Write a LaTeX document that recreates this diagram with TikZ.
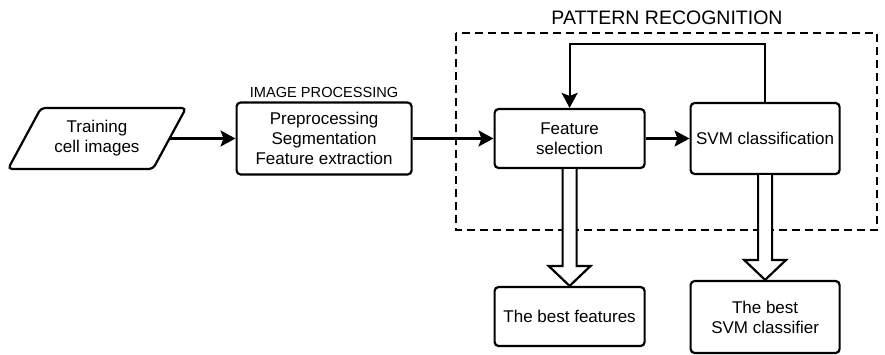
\documentclass[tikz,border=0pt]{standalone}
\usepackage{fontspec}
\setmainfont{Liberation Sans}
\usetikzlibrary{arrows.meta, positioning, calc}

\tikzset{
  procbox/.style={draw, rectangle, rounded corners=4pt, align=center, inner sep=2pt},
  databox/.style={rectangle, align=center, inner sep=2pt, outer sep=0pt},
  caption/.style={inner sep=2pt}
}

% hollow block arrow from one anchor to another
\newcommand{\hollowarrow}[2]{%
  \draw [fill=white, line join=miter] ($(#1)+(-7,0)$) -- ($(#2)+(-7,20)$) -- ($(#2)+(-21,20)$)
    -- (#2) -- ($(#2)+(21,20)$) -- ($(#2)+(7,20)$) -- ($(#1)+(7,0)$);}

\begin{document}
\begin{tikzpicture}[x=1pt, y=1pt, >={Stealth[length=15pt, width=16pt, inset=3pt]}, line width=2.2pt,
    font=\fontsize{17}{20}\selectfont]
  \useasboundingbox (0,0) rectangle (885,-354);

  \node [databox, minimum width=145pt, minimum height=61pt] (input) at (97,-138.5)
  {Training\\cell images};
  \draw [rounded corners=4pt] ($(input.south west)+(-16.5,0)$) -- ($(input.north west)+(16.5,0)$)
    -- ($(input.north east)+(16.5,0)$) -- ($(input.south east)+(-16.5,0)$) -- cycle;
  \node [procbox, right=66pt of input, minimum width=175pt, minimum height=72pt] (improc)
  {Preprocessing\\Segmentation\\Feature extraction};
  \node [caption, above=1pt of improc, font=\fontsize{14.6}{17}\selectfont] (iplabel) {IMAGE PROCESSING};
  \node [procbox, right=80.8pt of improc, minimum width=150pt, minimum height=59pt] (featsel)
  {Feature\\selection};
  \node [procbox, right=43.8pt of featsel, minimum width=149pt, minimum height=71pt] (svm)
  {SVM classification};
  \node [procbox, below=116.8pt of featsel, minimum width=150pt, minimum height=59pt] (bestfeat)
  {The best features};
  \node [procbox, below=104.8pt of svm, minimum width=149pt, minimum height=72pt] (bestsvm)
  {The best\\SVM classifier};

  % pattern recognition frame
  \draw [dashed, dash pattern=on 8pt off 5pt] (456,-33) rectangle (877,-230);
  \node [caption, anchor=base, font=\fontsize{19.5}{22}\selectfont] (prlabel) at (667,-24.5)
  {PATTERN RECOGNITION};

  \draw [->] (input) -- (improc);
  \draw [->] (improc) -- (featsel);
  \draw [->] (featsel) -- (svm);
  \draw [->] (svm.north) -- ++(0,58) -| (featsel.north);

  \hollowarrow{featsel.south}{bestfeat.north}
  \hollowarrow{svm.south}{bestsvm.north}
\end{tikzpicture}
\end{document}
